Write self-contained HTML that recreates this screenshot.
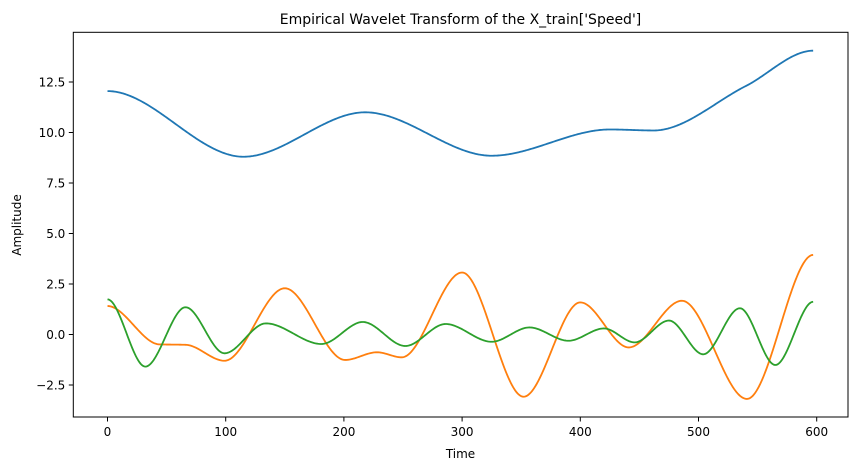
<!DOCTYPE html>
<html><head><meta charset="utf-8"><style>
body{margin:0;background:#fff}
svg{display:block;font-family:"DejaVu Sans","Liberation Sans",sans-serif}
</style></head><body>
<svg id="chart" width="857" height="470">
<rect x="0" y="0" width="857" height="470" fill="#fff"/>
<g id="series"></g>
<g id="axes"></g>
<text x="460.5" y="24" font-size="14" text-anchor="middle" fill="#000">Empirical Wavelet Transform of the X_train['Speed']</text>
<text x="460.5" y="458" font-size="12" text-anchor="middle" fill="#000">Time</text>
<text transform="translate(21,225) rotate(-90)" font-size="12" text-anchor="middle" fill="#000">Amplitude</text>
</svg>
<script>
const blueT=[0,115,218,325,425,462,540,597];
const blueV=[12.05,8.8,11.0,8.85,10.15,10.1,12.3,14.05];
const orangeT=[0,44,66,99,150,201,228,249,300,352,400,441,486,541,597];
const orangeV=[1.41,-0.49,-0.51,-1.30,2.29,-1.26,-0.88,-1.13,3.07,-3.08,1.59,-0.64,1.67,-3.19,3.94];
const greenT=[0,32,66,99,134,181,216,252,286,325,357,390,420,446,475,504,535,565,597];
const greenV=[1.74,-1.59,1.35,-0.93,0.55,-0.47,0.62,-0.57,0.52,-0.36,0.35,-0.31,0.30,-0.39,0.69,-0.98,1.30,-1.51,1.62];
const xTicks=[0,100,200,300,400,500,600];
const yTicks=[-2.5,0.0,2.5,5.0,7.5,10.0,12.5];
const yTickLabels=["\u22122.5","0.0","2.5","5.0","7.5","10.0","12.5"];
const L=73.3,R=848,T=32.3,B=417;
function xs(t){return 107.5+t*1.182;}
function ys(v){return 334.5-v*20.2;}
function mono(T_,V,t){
  const n=T_.length;let i=0;while(i<n-2&&t>T_[i+1])i++;
  const d=[];for(let k=0;k<n-1;k++)d.push((V[k+1]-V[k])/(T_[k+1]-T_[k]));
  function m(k){if(k===0||k===n-1)return 0;if(d[k-1]*d[k]<=0)return 0;
    const w1=2*(T_[k+1]-T_[k])+(T_[k]-T_[k-1]),w2=(T_[k+1]-T_[k])+2*(T_[k]-T_[k-1]);
    return (w1+w2)/(w1/d[k-1]+w2/d[k]);}
  const h=T_[i+1]-T_[i],s=(t-T_[i])/h;
  const h00=2*s*s*s-3*s*s+1,h10=s*s*s-2*s*s+s,h01=-2*s*s*s+3*s*s,h11=s*s*s-s*s;
  return h00*V[i]+h10*h*m(i)+h01*V[i+1]+h11*h*m(i+1);
}
const NS="http://www.w3.org/2000/svg";
const sg=document.getElementById('series');
[[blueT,blueV,'#1f77b4','series-imf1'],[orangeT,orangeV,'#ff7f0e','series-imf2'],[greenT,greenV,'#2ca02c','series-imf3']].forEach(([tt,vv,c,nm])=>{
  let d='';const end=tt[tt.length-1];
  for(let t=tt[0];t<=end;t+=1){d+=(d?'L':'M')+xs(t).toFixed(2)+','+ys(mono(tt,vv,t)).toFixed(2);}
  const p=document.createElementNS(NS,'path');
  p.setAttribute('d',d);p.setAttribute('fill','none');p.setAttribute('stroke',c);p.setAttribute('stroke-width','1.8');
  
  
  sg.appendChild(p);
});
const ag=document.getElementById('axes');
const fr=document.createElementNS(NS,'rect');
fr.setAttribute('x',L);fr.setAttribute('y',T);fr.setAttribute('width',R-L);fr.setAttribute('height',B-T);
fr.setAttribute('fill','none');fr.setAttribute('stroke','#000');fr.setAttribute('stroke-width','1');


ag.appendChild(fr);
xTicks.forEach(v=>{
  const x=xs(v);
  const l=document.createElementNS(NS,'line');
  l.setAttribute('x1',x);l.setAttribute('x2',x);l.setAttribute('y1',B);l.setAttribute('y2',B+4.5);l.setAttribute('stroke','#000');
  
  
  ag.appendChild(l);
  const tx=document.createElementNS(NS,'text');
  tx.setAttribute('x',x);tx.setAttribute('y',B+19);tx.setAttribute('font-size','12');tx.setAttribute('text-anchor','middle');
  tx.textContent=String(v);
  
  
  ag.appendChild(tx);
});
yTicks.forEach((v,i)=>{
  const y=ys(v);
  const l=document.createElementNS(NS,'line');
  l.setAttribute('x1',L-4.5);l.setAttribute('x2',L);l.setAttribute('y1',y);l.setAttribute('y2',y);l.setAttribute('stroke','#000');
  
  
  ag.appendChild(l);
  const tx=document.createElementNS(NS,'text');
  tx.setAttribute('x',L-8);tx.setAttribute('y',y+4.3);tx.setAttribute('font-size','12');tx.setAttribute('text-anchor','end');
  tx.textContent=yTickLabels[i];
  
  
  ag.appendChild(tx);
});
</script>
</body></html>
